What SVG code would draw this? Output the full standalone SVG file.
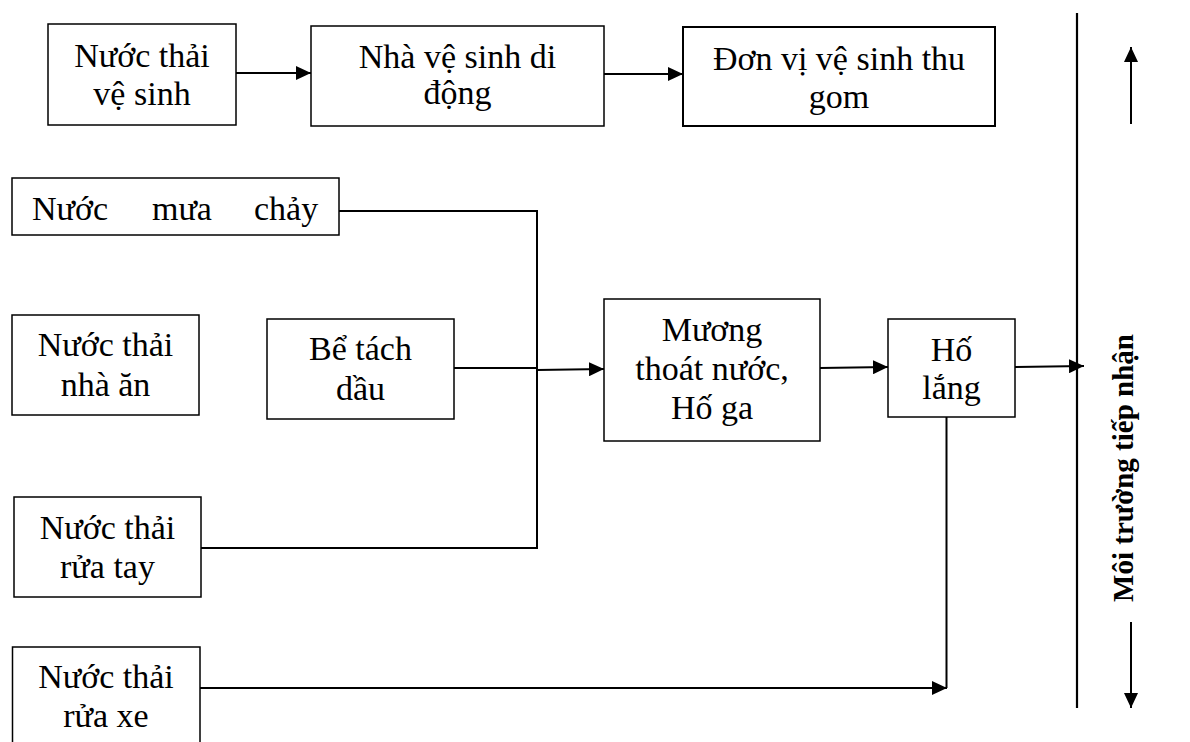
<svg xmlns="http://www.w3.org/2000/svg" width="1190" height="742" viewBox="0 0 1190 742">
<style>
.box{fill:#fff;stroke:#000;stroke-width:1.5}
.t{font-family:"Liberation Serif","Times New Roman",serif;font-size:34px;fill:#000;text-anchor:middle}
.c{fill:none;stroke:#000;stroke-width:2}
.v{font-family:"Liberation Serif","Times New Roman",serif;font-size:29px;font-weight:bold;fill:#000;text-anchor:middle}
</style>
<defs>
<marker id="ah" markerWidth="16" markerHeight="14" refX="15" refY="7" orient="auto" markerUnits="userSpaceOnUse">
<path d="M0,0 L15,7 L0,14 Z" fill="#000"/>
</marker>
</defs>
<rect width="1190" height="742" fill="#fff"/>
<g id="n1"><rect class="box" x="48" y="24" width="188" height="101"/><text class="t" x="142" y="67">Nước thải</text><text class="t" x="142" y="105">vệ sinh</text></g>
<g id="n2"><rect class="box" x="311" y="26" width="293" height="100"/><text class="t" x="457.5" y="68">Nhà vệ sinh di</text><text class="t" x="457.5" y="104">động</text></g>
<g id="n3"><rect class="box" x="683" y="27" width="312" height="99" style="stroke-width:2"/><text class="t" x="839" y="70">Đơn vị vệ sinh thu</text><text class="t" x="839" y="108">gom</text></g>
<g id="n4"><rect class="box" x="12" y="178" width="327" height="57"/><text class="t" y="220" style="text-anchor:start"><tspan x="32">Nước</tspan><tspan x="152">mưa</tspan><tspan x="254">chảy</tspan></text></g>
<g id="n5"><rect class="box" x="12" y="315" width="187" height="100"/><text class="t" x="105.5" y="356">Nước thải</text><text class="t" x="105.5" y="396">nhà ăn</text></g>
<g id="n6"><rect class="box" x="267" y="319" width="187" height="100"/><text class="t" x="360.5" y="360">Bể tách</text><text class="t" x="360.5" y="400">dầu</text></g>
<g id="n7"><rect class="box" x="604" y="299" width="216" height="142"/><text class="t" x="712" y="341">Mương</text><text class="t" x="712" y="380">thoát nước,</text><text class="t" x="712" y="419">Hố ga</text></g>
<g id="n8"><rect class="box" x="888" y="319" width="127" height="98"/><text class="t" x="951.5" y="361">Hố</text><text class="t" x="951.5" y="399">lắng</text></g>
<g id="n9"><rect class="box" x="14" y="497" width="187" height="100"/><text class="t" x="107.5" y="539">Nước thải</text><text class="t" x="107.5" y="578">rửa tay</text></g>
<g id="n10"><rect class="box" x="12.5" y="647" width="187.5" height="120"/><text class="t" x="106" y="688">Nước thải</text><text class="t" x="106" y="727">rửa xe</text></g>
<g id="n11"><text class="v" transform="translate(1133,468) rotate(-90)">Môi trường tiếp nhận</text></g>
<g id="connectors">
<line class="c" x1="236" y1="73" x2="311" y2="73" marker-end="url(#ah)"/>
<line class="c" x1="604" y1="74" x2="683" y2="74" marker-end="url(#ah)"/>
<polyline class="c" points="339,211 537,211 537,548 201,548"/>
<line class="c" x1="454" y1="368" x2="537" y2="368"/>
<line class="c" x1="537" y1="370" x2="604" y2="369" marker-end="url(#ah)"/>
<line class="c" x1="820" y1="368" x2="888" y2="367" marker-end="url(#ah)"/>
<line class="c" x1="1015" y1="367" x2="1084" y2="366" marker-end="url(#ah)"/>
<line class="c" x1="946.5" y1="417" x2="946.5" y2="688"/>
<line class="c" x1="200" y1="688" x2="947" y2="688" marker-end="url(#ah)"/>
<line class="c" x1="1077" y1="13" x2="1077" y2="708" style="stroke-width:2.2"/>
<line class="c" x1="1131" y1="124" x2="1131" y2="47" marker-end="url(#ah)"/>
<line class="c" x1="1131" y1="622" x2="1131" y2="708" marker-end="url(#ah)"/>
</g>
</svg>
